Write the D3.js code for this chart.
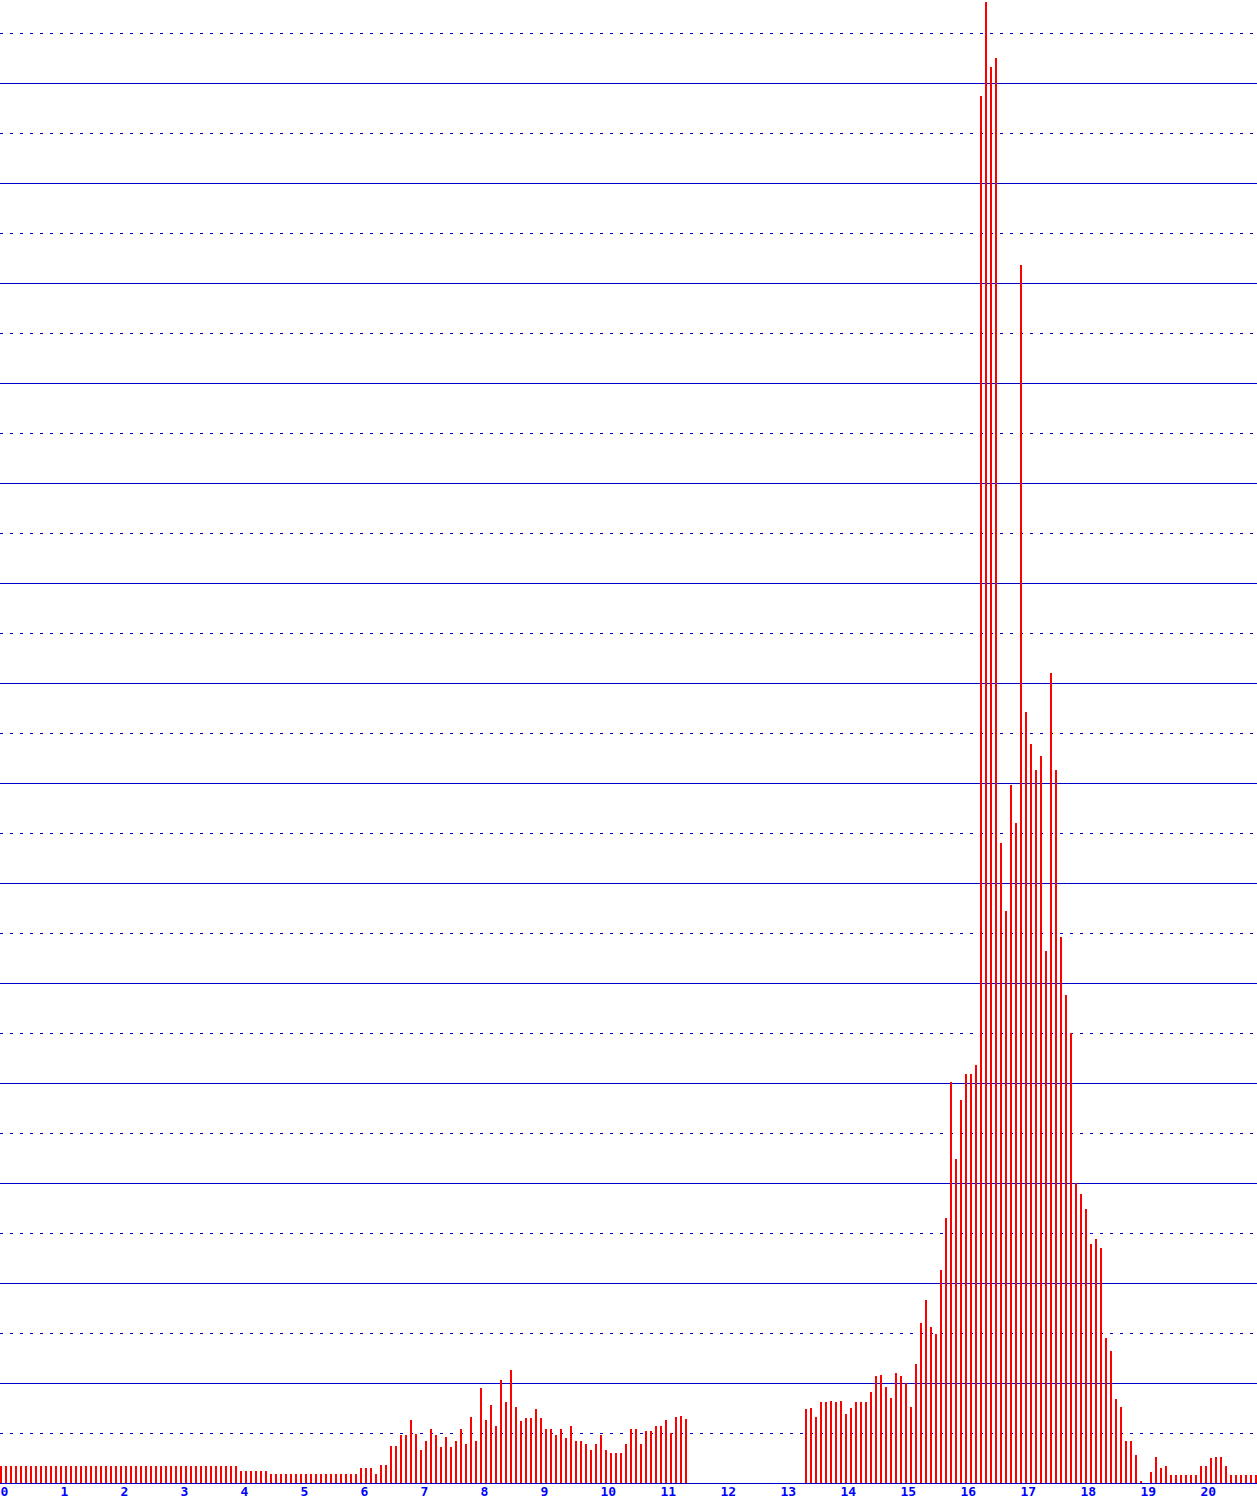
<!DOCTYPE html>
<html>
<head>
<meta charset="utf-8">
<script src="https://cdn.jsdelivr.net/npm/d3@7"></script>
<style>
  html, body { margin: 0; padding: 0; background: #ffffff; overflow: hidden; }
  svg { display: block; }
</style>
</head>
<body>
<div id="chart"></div>
<script>
// ---- DATA ----
// one bar every 5 minutes, hours 0..21 (12 bars per hour)
const hourLabels = ["0","1","2","3","4","5","6","7","8","9","10","11","12","13","14","15","16","17","18","19","20"];
const barsPerHour = 12;
const values = [
  // 0:00 - 3:55
  3.4,3.4,3.4,3.4,3.4,3.4,3.4,3.4,3.4,3.4,3.4,3.4,
  3.4,3.4,3.4,3.4,3.4,3.4,3.4,3.4,3.4,3.4,3.4,3.4,
  3.4,3.4,3.4,3.4,3.4,3.4,3.4,3.4,3.4,3.4,3.4,3.4,
  3.4,3.4,3.4,3.4,3.4,3.4,3.4,3.4,3.4,3.4,3.4,3.4,
  // 4:00
  2.4,2.4,2.4,2.4,2.4,2.4,1.8,1.8,1.8,1.8,1.8,1.8,
  // 5:00
  1.8,1.8,1.8,1.8,1.8,1.8,1.8,1.8,1.8,1.8,1.8,1.8,
  // 6:00
  3.0,3.0,3.0,1.8,3.6,3.6,7.4,7.4,9.6,9.6,12.6,9.8,
  // 7:00
  6.6,8.4,10.8,9.6,7.2,9.2,7.2,8.4,10.8,7.8,13.2,8.4,
  // 8:00
  19.0,12.6,15.6,11.4,20.6,16.2,22.6,15.2,12.4,13.0,13.0,14.8,
  // 9:00
  13.0,10.8,10.8,9.6,10.8,9.0,11.4,8.4,8.4,7.8,6.6,7.8,
  // 10:00
  9.6,6.6,6.0,6.0,6.0,7.8,10.8,10.8,7.8,10.4,10.4,11.4,
  // 11:00
  11.4,12.6,10.0,13.2,13.4,12.8,0,0,0,0,0,0,
  // 12:00
  0,0,0,0,0,0,0,0,0,0,0,0,
  // 13:00
  0,0,0,0,0,14.8,15.0,13.2,16.2,16.2,16.4,16.2,
  // 14:00
  16.4,13.8,15.0,16.2,16.2,16.2,18.2,21.4,21.6,19.2,17.0,22.0,
  // 15:00
  21.4,20.0,15.2,23.8,32.0,36.6,31.2,29.8,42.6,53.0,80.2,64.8,
  // 16:00
  76.6,81.8,81.8,83.6,277.4,296.2,283.2,285.0,128.0,114.4,139.6,132.0,
  // 17:00
  243.6,154.2,147.8,142.6,145.4,106.4,162.0,142.6,109.2,97.6,90.0,60.0,
  // 18:00
  57.8,54.8,47.8,48.8,47.0,29.0,26.4,16.8,15.2,8.4,8.4,5.6,
  // 19:00
  0.4,0,2.2,5.2,3.0,3.4,1.6,1.6,1.6,1.6,1.6,1.6,
  // 20:00
  3.4,3.4,5.0,5.2,5.2,3.4,1.6,1.6,1.6,1.6,1.6,1.6
];
const gridValues = [10,20,30,40,50,60,70,80,90,100,110,120,130,140,150,160,170,180,190,200,210,220,230,240,250,260,270,280,290];

// ---- LAYOUT ----
const W = 1257, H = 1503;
const baseY = 1483;
const yTop = 0;
const yMax = 296.6;
const barW = 2;

const svg = d3.select("#chart").append("svg")
  .attr("width", W).attr("height", H)
  .attr("shape-rendering", "crispEdges");

const x = d3.scaleLinear().domain([0, 21]).range([0, 1260]);
const y = d3.scaleLinear().domain([0, yMax]).range([baseY, yTop]);

// gridlines
svg.append("g").selectAll("line").data(gridValues).join("line")
  .attr("x1", 0).attr("x2", W)
  .attr("y1", d => Math.round(y(d)) + 0.5)
  .attr("y2", d => Math.round(y(d)) + 0.5)
  .attr("stroke", "#0000cc")
  .attr("stroke-width", 1)
  .attr("stroke-dasharray", d => (d % 20 === 0) ? null : "3,7");

// bars
svg.append("g").selectAll("rect").data(values).join("rect")
  .attr("x", (d, i) => x(i / barsPerHour))
  .attr("width", barW)
  .attr("y", d => Math.round(y(d)))
  .attr("height", d => baseY - Math.round(y(d)))
  .attr("fill", "#ff0000");

// baseline
svg.append("line")
  .attr("x1", 0).attr("x2", W)
  .attr("y1", y(0) + 0.5).attr("y2", y(0) + 0.5)
  .attr("stroke", "#0000cc").attr("stroke-width", 1);

// x axis labels
const xAxis = d3.axisBottom(x)
  .tickValues(d3.range(hourLabels.length))
  .tickFormat(i => hourLabels[i])
  .tickSize(0)
  .tickPadding(0);
const ax = svg.append("g").attr("transform", `translate(0,${baseY})`).call(xAxis);
ax.select(".domain").remove();
ax.selectAll("text")
  .attr("text-anchor", "start")
  .attr("dy", null)
  .attr("x", 0)
  .attr("y", 13)
  .attr("fill", "#0000ff")
  .style("font-family", "'DejaVu Sans Mono', monospace")
  .style("font-weight", "bold")
  .style("font-size", "13px");
</script>
</body>
</html>
